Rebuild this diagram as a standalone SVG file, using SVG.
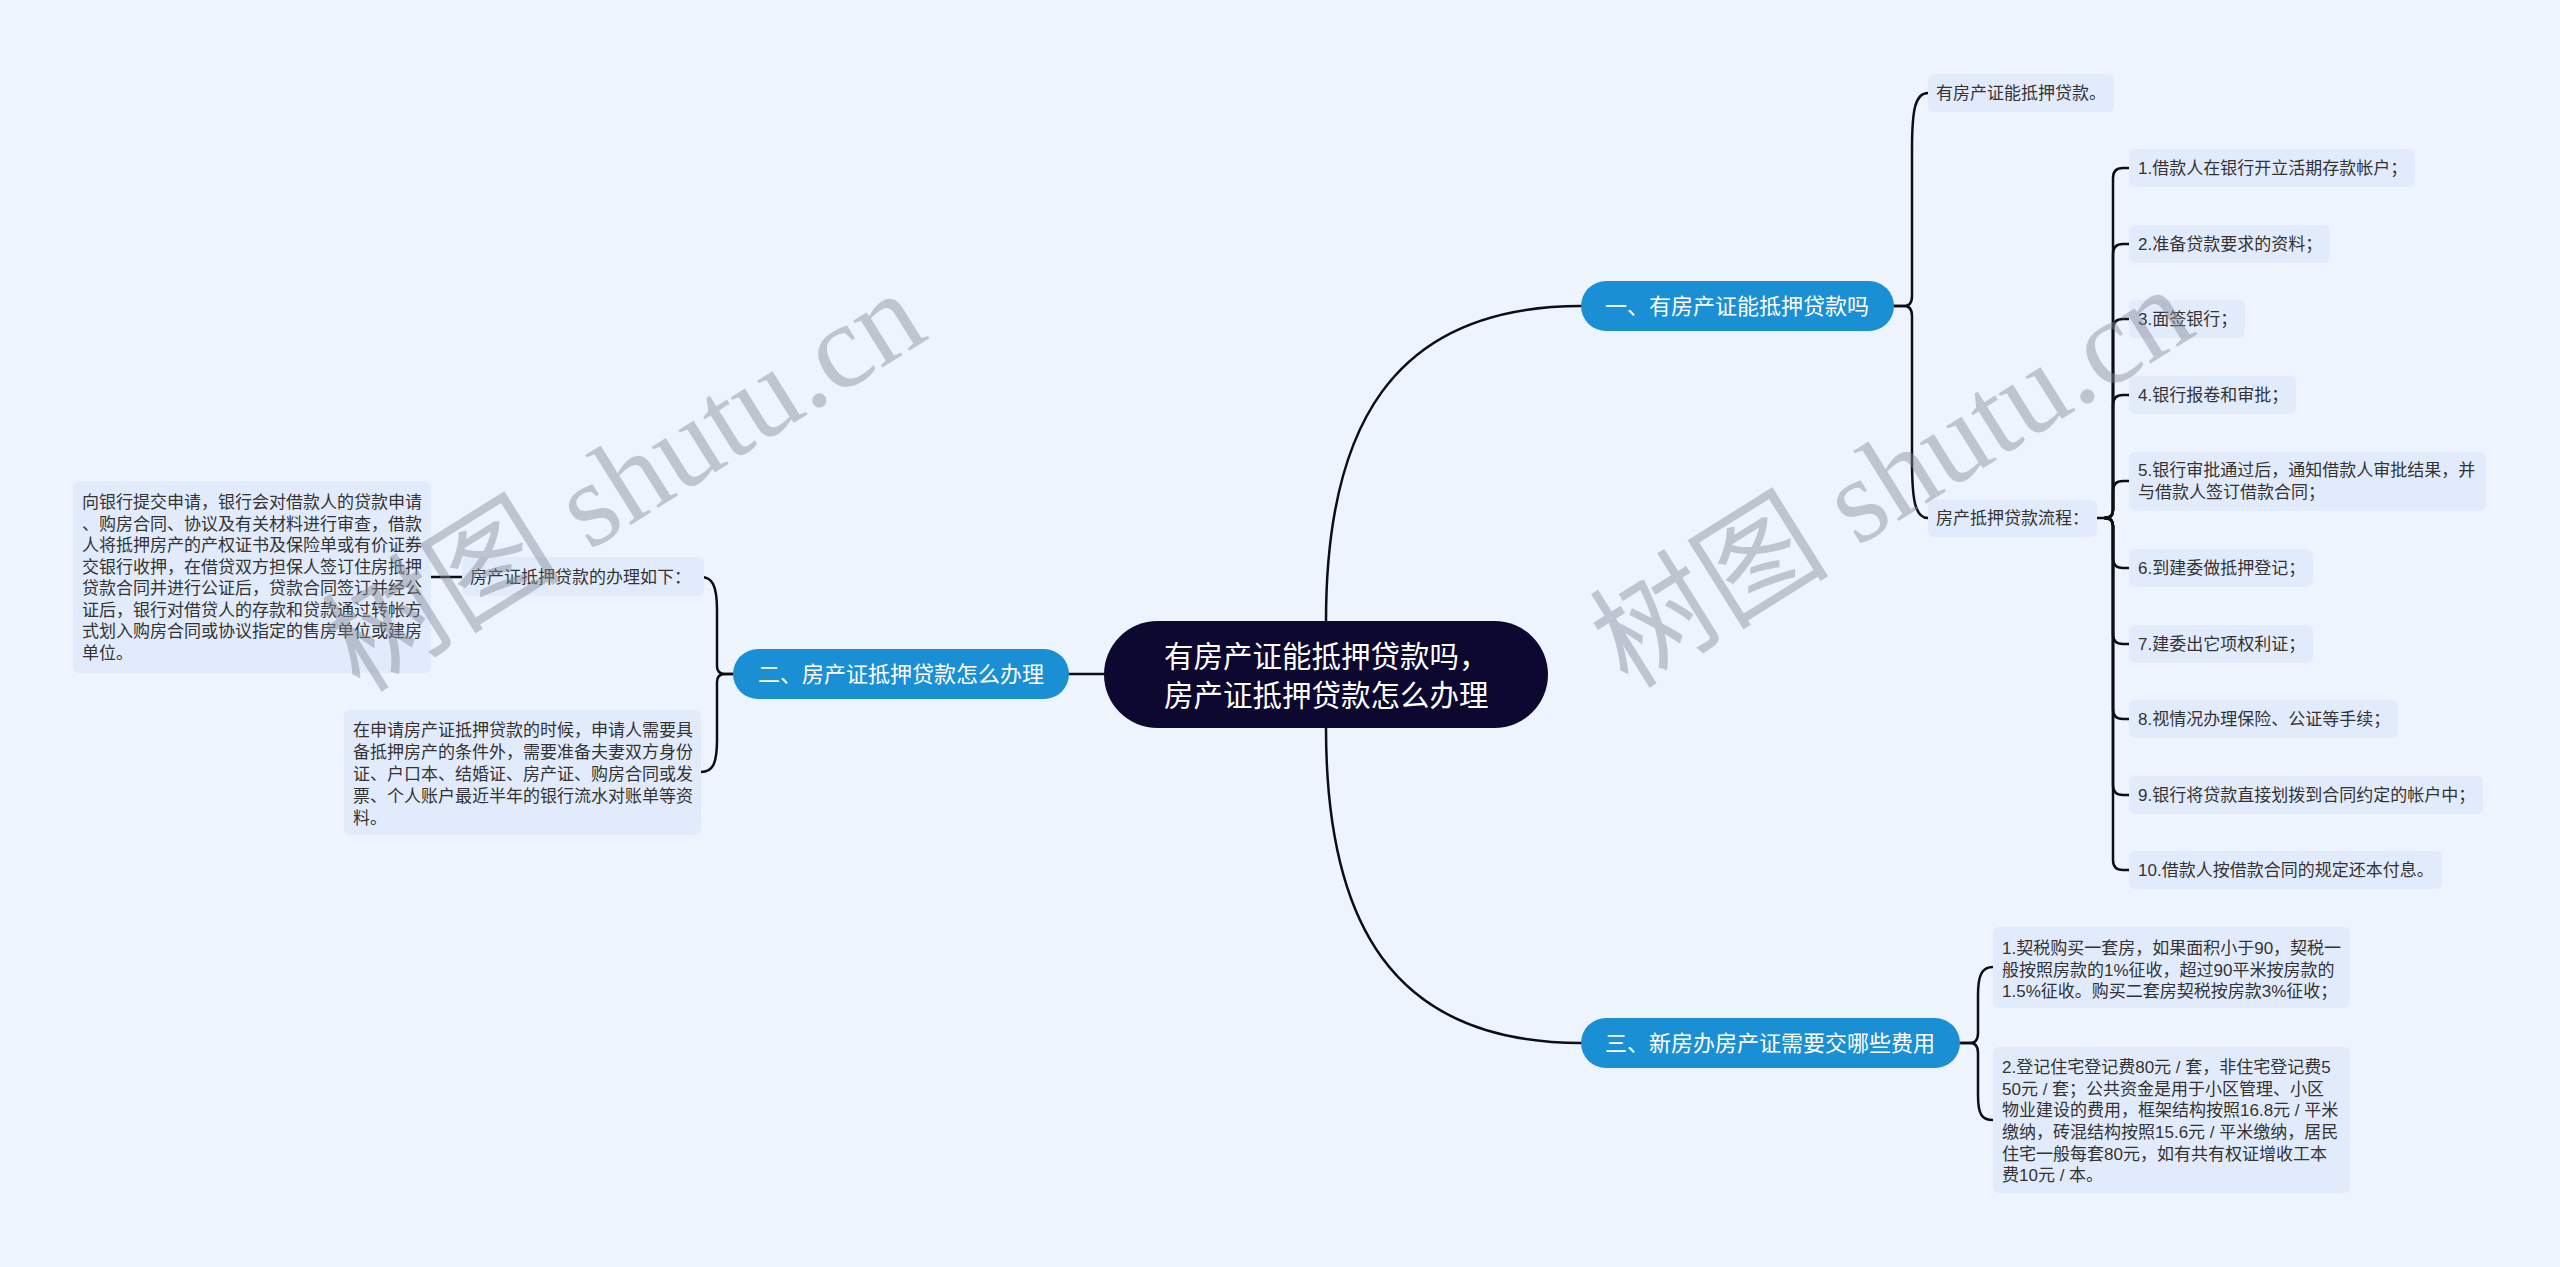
<svg xmlns="http://www.w3.org/2000/svg" width="2560" height="1267" viewBox="0 0 2560 1267">
<style>
.bg{fill:#eef4fe}
.leaf{fill:#e2ebfb}
.lt{font-family:"Liberation Sans","Noto Sans CJK SC",sans-serif;font-size:17px;fill:#333}
.br{fill:#1b8fd4}
.bt{font-family:"Liberation Sans","Noto Sans CJK SC",sans-serif;font-size:22px;fill:#fff;text-anchor:middle}
.ct{font-family:"Liberation Sans","Noto Sans CJK SC",sans-serif;font-size:29.5px;fill:#fff}
.ln{fill:none;stroke:#0d0d14;stroke-width:2.5;stroke-linecap:round}
.wm{font-family:"Liberation Serif","Noto Sans CJK SC",serif;font-size:120px;fill:#858c99;opacity:0.45}
</style>
<rect class="bg" x="0" y="0" width="2560" height="1267"/>

<g id="connectors">
<path class="ln" d="M1326 621 C1326 430 1390 306 1581 306"/>
<path class="ln" d="M1326 728 C1326 920 1390 1043 1581 1043"/>
<path class="ln" d="M1104 674 H1069"/>
<path class="ln" d="M1894 306 H1904 Q1912 306 1912 296 V150 C1912 110 1915 93 1928 93"/>
<path class="ln" d="M1894 306 H1904 Q1912 306 1912 316 V460 C1912 500 1915 518 1928 518"/>
<path class="ln" d="M2097 518 H2105 Q2113 518 2113 510 V178 Q2113 168 2123 168 H2129"/>
<path class="ln" d="M2105 518 Q2113 518 2113 510 V254 Q2113 244 2123 244 H2129"/>
<path class="ln" d="M2105 518 Q2113 518 2113 510 V329 Q2113 319 2123 319 H2129"/>
<path class="ln" d="M2105 518 Q2113 518 2113 510 V405 Q2113 395 2123 395 H2129"/>
<path class="ln" d="M2105 518 Q2113 518 2113 510 V491 Q2113 481 2123 481 H2129"/>
<path class="ln" d="M2105 518 Q2113 518 2113 526 V558 Q2113 568 2123 568 H2129"/>
<path class="ln" d="M2105 518 Q2113 518 2113 526 V634 Q2113 644 2123 644 H2129"/>
<path class="ln" d="M2105 518 Q2113 518 2113 526 V709 Q2113 719 2123 719 H2129"/>
<path class="ln" d="M2105 518 Q2113 518 2113 526 V785 Q2113 795 2123 795 H2129"/>
<path class="ln" d="M2105 518 Q2113 518 2113 526 V860 Q2113 870 2123 870 H2129"/>
<path class="ln" d="M733 674 H725 Q717 674 717 666 V610 C717 585 712 577 701 577"/>
<path class="ln" d="M733 674 H725 Q717 674 717 682 V740 C717 765 712 772 701 772"/>
<path class="ln" d="M431 577 H462"/>
<path class="ln" d="M1960 1043 H1970 Q1978 1043 1978 1033 V995 C1978 975 1982 967 1993 967"/>
<path class="ln" d="M1960 1043 H1970 Q1978 1043 1978 1053 V1095 C1978 1115 1982 1120 1993 1120"/>
</g>

<g id="root">
<rect x="1104" y="621" width="444" height="107" rx="53.5" fill="#0c0830"/>
<text class="ct" x="1164" y="667">有房产证能抵押贷款吗，</text>
<text class="ct" x="1164" y="706">房产证抵押贷款怎么办理</text>
</g>

<g id="b1">
<rect class="br" x="1581" y="281" width="313" height="50" rx="25"/>
<text class="bt" x="1737" y="314">一、有房产证能抵押贷款吗</text>
</g>
<g id="b2">
<rect class="br" x="733" y="649" width="336" height="50" rx="25"/>
<text class="bt" x="901" y="682">二、房产证抵押贷款怎么办理</text>
</g>
<g id="b3">
<rect class="br" x="1581" y="1018" width="379" height="50" rx="25"/>
<text class="bt" x="1770" y="1051">三、新房办房产证需要交哪些费用</text>
</g>

<g id="b1-a">
<rect class="leaf" x="1928" y="74" width="186" height="38" rx="6"/>
<text class="lt" x="1936" y="99">有房产证能抵押贷款。</text>
</g>
<g id="b1-b">
<rect class="leaf" x="1928" y="500" width="169" height="37" rx="6"/>
<text class="lt" x="1936" y="524">房产抵押贷款流程：</text>
</g>
<g id="s1"><rect class="leaf" x="2129" y="149" width="286" height="38" rx="6"/><text class="lt" x="2138" y="174">1.借款人在银行开立活期存款帐户；</text></g>
<g id="s2"><rect class="leaf" x="2129" y="225" width="201" height="38" rx="6"/><text class="lt" x="2138" y="250">2.准备贷款要求的资料；</text></g>
<g id="s3"><rect class="leaf" x="2129" y="300" width="116" height="38" rx="6"/><text class="lt" x="2138" y="325">3.面签银行；</text></g>
<g id="s4"><rect class="leaf" x="2129" y="376" width="167" height="38" rx="6"/><text class="lt" x="2138" y="401">4.银行报卷和审批；</text></g>
<g id="s5"><rect class="leaf" x="2129" y="452" width="357" height="59" rx="6"/><text class="lt" x="2138" y="476">5.银行审批通过后，通知借款人审批结果，并</text><text class="lt" x="2138" y="498">与借款人签订借款合同；</text></g>
<g id="s6"><rect class="leaf" x="2129" y="549" width="184" height="38" rx="6"/><text class="lt" x="2138" y="574">6.到建委做抵押登记；</text></g>
<g id="s7"><rect class="leaf" x="2129" y="625" width="184" height="38" rx="6"/><text class="lt" x="2138" y="650">7.建委出它项权利证；</text></g>
<g id="s8"><rect class="leaf" x="2129" y="700" width="269" height="38" rx="6"/><text class="lt" x="2138" y="725">8.视情况办理保险、公证等手续；</text></g>
<g id="s9"><rect class="leaf" x="2129" y="776" width="354" height="38" rx="6"/><text class="lt" x="2138" y="801">9.银行将贷款直接划拨到合同约定的帐户中；</text></g>
<g id="s10"><rect class="leaf" x="2129" y="851" width="313" height="38" rx="6"/><text class="lt" x="2138" y="876">10.借款人按借款合同的规定还本付息。</text></g>

<g id="b2-a">
<rect class="leaf" x="462" y="557" width="242" height="39" rx="6"/>
<text class="lt" x="470" y="583">房产证抵押贷款的办理如下：</text>
</g>
<g id="b2-a-1">
<rect class="leaf" x="73" y="481" width="358" height="192" rx="6"/>
<text class="lt" x="82" y="508">向银行提交申请，银行会对借款人的贷款申请</text>
<text class="lt" x="82" y="529.5">、购房合同、协议及有关材料进行审查，借款</text>
<text class="lt" x="82" y="551">人将抵押房产的产权证书及保险单或有价证券</text>
<text class="lt" x="82" y="572.5">交银行收押，在借贷双方担保人签订住房抵押</text>
<text class="lt" x="82" y="594">贷款合同并进行公证后，贷款合同签订并经公</text>
<text class="lt" x="82" y="615.5">证后，银行对借贷人的存款和贷款通过转帐方</text>
<text class="lt" x="82" y="637">式划入购房合同或协议指定的售房单位或建房</text>
<text class="lt" x="82" y="658.5">单位。</text>
</g>
<g id="b2-b">
<rect class="leaf" x="344" y="710" width="357" height="125" rx="6"/>
<text class="lt" x="353" y="736">在申请房产证抵押贷款的时候，申请人需要具</text>
<text class="lt" x="353" y="758">备抵押房产的条件外，需要准备夫妻双方身份</text>
<text class="lt" x="353" y="780">证、户口本、结婚证、房产证、购房合同或发</text>
<text class="lt" x="353" y="802">票、个人账户最近半年的银行流水对账单等资</text>
<text class="lt" x="353" y="824">料。</text>
</g>

<g id="b3-a">
<rect class="leaf" x="1993" y="927" width="357" height="81" rx="6"/>
<text class="lt" x="2002" y="954">1.契税购买一套房，如果面积小于90，契税一</text>
<text class="lt" x="2002" y="976">般按照房款的1%征收，超过90平米按房款的</text>
<text class="lt" x="2002" y="997">1.5%征收。购买二套房契税按房款3%征收；</text>
</g>
<g id="b3-b">
<rect class="leaf" x="1993" y="1047" width="357" height="146" rx="6"/>
<text class="lt" x="2002" y="1073">2.登记住宅登记费80元 / 套，非住宅登记费5</text>
<text class="lt" x="2002" y="1094.5">50元 / 套；公共资金是用于小区管理、小区</text>
<text class="lt" x="2002" y="1116">物业建设的费用，框架结构按照16.8元 / 平米</text>
<text class="lt" x="2002" y="1138">缴纳，砖混结构按照15.6元 / 平米缴纳，居民</text>
<text class="lt" x="2002" y="1159.5">住宅一般每套80元，如有共有权证增收工本</text>
<text class="lt" x="2002" y="1181">费10元 / 本。</text>
</g>

<text class="wm" transform="translate(360 694) rotate(-32)">树图 shutu.cn</text>
<text class="wm" transform="translate(1628 690) rotate(-32)">树图 shutu.cn</text>
</svg>
